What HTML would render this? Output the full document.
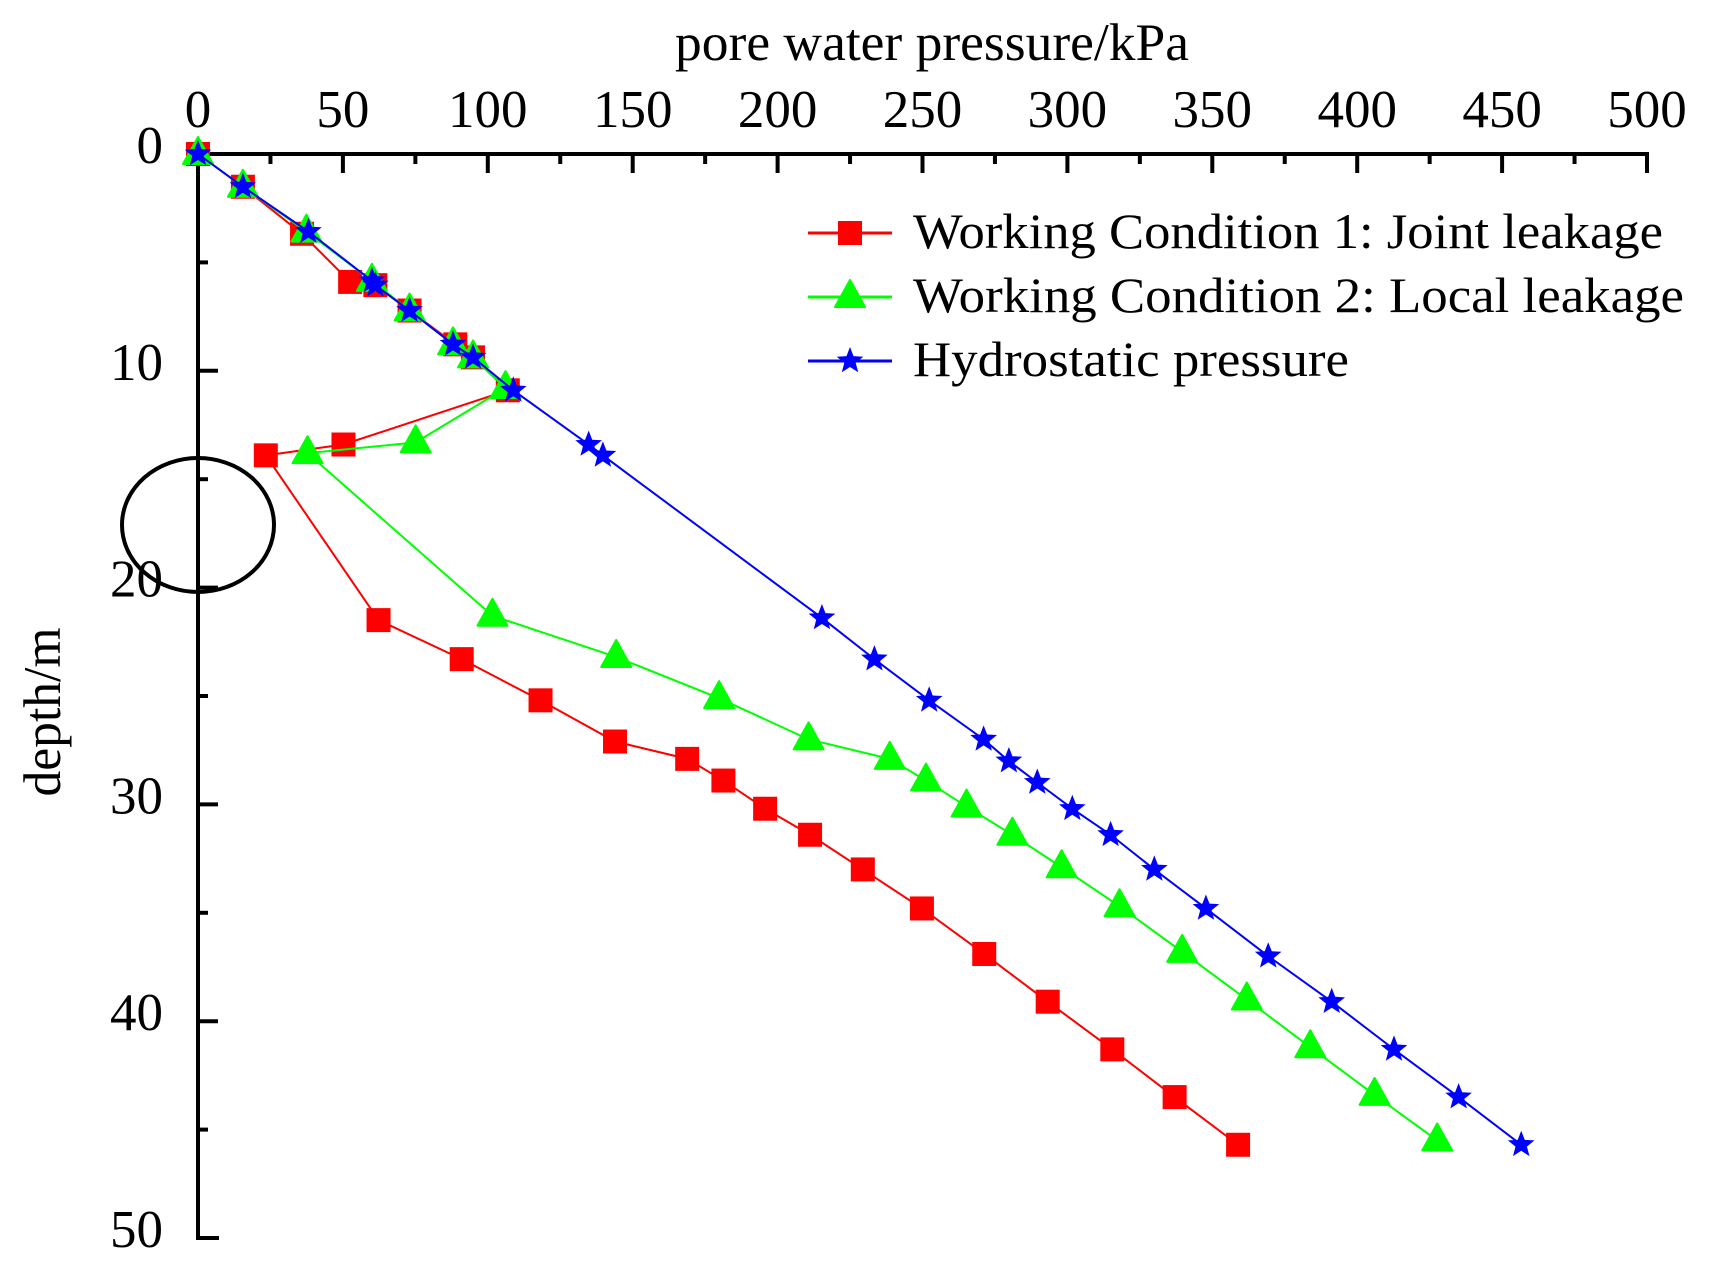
<!DOCTYPE html>
<html><head><meta charset="utf-8"><style>
html,body{margin:0;padding:0;background:#fff;}
svg{display:block;font-family:"Liberation Serif",serif;}
</style></head><body>
<svg id="chart" width="1715" height="1272" viewBox="0 0 1715 1272" xmlns="http://www.w3.org/2000/svg"></svg>
<script>
const xTicks = [0,50,100,150,200,250,300,350,400,450,500];
const yTicks = [0,10,20,30,40,50];
const redX = [0,15.5,35.9,52.5,61.2,73,88.8,94.9,106.9,50.2,23.4,62.3,91,118.2,143.9,168.8,181.3,195.7,211.2,229.4,249.8,271.3,293.2,315.5,337,358.9];
const redY = [0,1.51,3.68,5.9,6.05,7.22,8.78,9.38,10.9,13.4,13.9,21.5,23.3,25.2,27.1,27.9,28.9,30.2,31.4,33,34.8,36.9,39.1,41.3,43.5,45.7];
const greenX = [0,15.5,37.4,60,73,88,94.9,106.1,75.1,37.8,101.6,144.3,179.8,210.7,238.7,251.2,265.2,281,298,318,339.6,361.9,383.8,406,427.6];
const greenY = [0,1.51,3.58,5.85,7.22,8.78,9.38,10.8,13.3,13.8,21.3,23.2,25.1,27,27.9,28.9,30.1,31.4,32.9,34.7,36.8,39,41.2,43.4,45.5];
const blueX = [0,15.5,38.1,60,61.2,73,88,94.9,108.8,134.8,139.7,215.3,233.4,252.3,271.1,279.8,289.6,301.7,314.9,330,347.8,369.3,391.2,412.7,435,456.6];
const blueY = [0,1.51,3.58,5.85,6.05,7.22,8.78,9.38,10.9,13.4,13.9,21.4,23.3,25.2,27,28,28.99,30.2,31.4,33,34.8,37,39.1,41.3,43.5,45.7];

const NS="http://www.w3.org/2000/svg";
const svg=document.getElementById('chart');
const X0=198,X1=1647,Y0=154,Y1=1238;
const sx=v=>X0+(v-0)/(500-0)*(X1-X0);
const sy=v=>Y0+(v-0)/(50-0)*(Y1-Y0);
function mk(tag,attrs,parent){const e=document.createElementNS(NS,tag);for(const k in attrs)e.setAttribute(k,attrs[k]);(parent||svg).appendChild(e);return e;}

// axes
const ax=mk('g',{});


const topAxis=mk('line',{x1:X0-2,y1:Y0,x2:X1+2,y2:Y0,stroke:'#000','stroke-width':4},ax);


const leftAxis=mk('line',{x1:X0,y1:Y0-2,x2:X0,y2:Y1+2,stroke:'#000','stroke-width':4},ax);


const bt=mk('line',{x1:X0,y1:Y1,x2:X0+21,y2:Y1,stroke:'#000','stroke-width':4},ax);



xTicks.forEach((t,i)=>{
  const x=sx(t);
  const tk=mk('line',{x1:x,y1:Y0,x2:x,y2:Y0+19,stroke:'#000','stroke-width':4},ax);
  
  
  if(i<xTicks.length-1){
    const m=sx(t+25);
    const mt=mk('line',{x1:m,y1:Y0,x2:m,y2:Y0+10,stroke:'#000','stroke-width':4},ax);
    
    
  }
  const lb=mk('text',{x:x,y:127,'font-size':53,'text-anchor':'middle',fill:'#000'},ax);
  lb.textContent=t;
  
  
});
yTicks.forEach((t,i)=>{
  const y=sy(t);
  const tk=mk('line',{x1:X0,y1:y,x2:X0+20,y2:y,stroke:'#000','stroke-width':4},ax);
  
  
  if(i<yTicks.length-1){
    const m=sy(t+5);
    const mt=mk('line',{x1:X0,y1:m,x2:X0+10,y2:m,stroke:'#000','stroke-width':4},ax);
    
    
  }
  const lb=mk('text',{x:163,y:y+9,'font-size':53,'text-anchor':'end',fill:'#000'},ax);
  lb.textContent=t;
  
  
});
const xt=mk('text',{x:932,y:60,'font-size':53,'text-anchor':'middle',textLength:514,lengthAdjust:'spacingAndGlyphs'},ax);
xt.textContent='pore water pressure/kPa';


const yt=mk('text',{x:0,y:0,'font-size':53,'text-anchor':'middle',transform:'translate(60,712) rotate(-90)',textLength:169,lengthAdjust:'spacingAndGlyphs'},ax);
yt.textContent='depth/m';



// marker shapes
function square(g,x,y,c){return mk('rect',{x:x-12,y:y-12,width:24,height:24,fill:c},g);}
function tri(g,x,y,c){return mk('polygon',{points:`${x},${y-17} ${x-15},${y+10} ${x+15},${y+10}`,fill:c,stroke:c,'stroke-width':2,'stroke-linejoin':'round'},g);}
function star(g,x,y,c){let p=[];for(let k=0;k<10;k++){const r=k%2?6:14;const a=-Math.PI/2+k*Math.PI/5;p.push((x+r*Math.cos(a)).toFixed(1)+','+(y+r*Math.sin(a)).toFixed(1));}return mk('polygon',{points:p.join(' '),fill:c},g);}

function series(name,xs,ys,c,shape){
  const g=mk('g',{});
  
  
  const pl=mk('polyline',{points:xs.map((v,i)=>sx(v)+','+sy(ys[i])).join(' '),fill:'none',stroke:c,'stroke-width':2},g);
  
  
  xs.forEach((v,i)=>{
    const m=shape(g,sx(v),sy(ys[i]),c);
    
    
  });
}
series('joint-leakage-series',redX,redY,'#ff0000',square);
series('local-leakage-series',greenX,greenY,'#00ff00',tri);
series('hydrostatic-series',blueX,blueY,'#0000ff',star);

// circle annotation
const circ=mk('ellipse',{cx:198,cy:525,rx:76,ry:67,fill:'none',stroke:'#000','stroke-width':4});



// legend
const lg=mk('g',{});


const legendItems=[['Working Condition 1: Joint leakage','#ff0000',square,233,750],['Working Condition 2: Local leakage','#00ff00',tri,297,771],['Hydrostatic pressure','#0000ff',star,361,436]];
legendItems.forEach(([label,c,shape,y,w])=>{
  const e=mk('g',{},lg);
  
  
  mk('line',{x1:808,y1:y,x2:892,y2:y,stroke:c,'stroke-width':3},e);
  shape(e,850,y,c);
  const t=mk('text',{x:913,y:y+15,'font-size':50,textLength:w,lengthAdjust:'spacingAndGlyphs'},e);
  t.textContent=label;
  
  
});
</script>
</body></html>
